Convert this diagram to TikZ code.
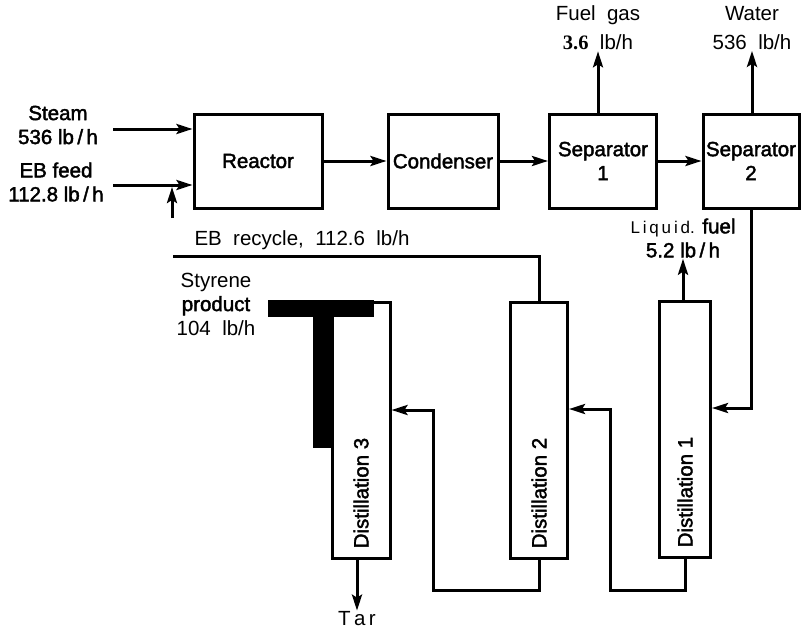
\documentclass[tikz,border=0pt]{standalone}
\usepackage{fontspec}
\setmainfont{Liberation Sans}
\newfontfamily\medfont{Liberation Sans}[FakeBold=2]
\newfontfamily\numfont{Liberation Serif}
\usetikzlibrary{arrows.meta,positioning}
\newcommand{\heavytext}{\medfont\fontsize{20.5}{24}\selectfont}
\newcommand{\thintext}{\fontsize{20.5}{24}\selectfont}
\newcommand{\widetext}{\fontsize{20.5}{29}\selectfont}
\tikzstyle{unit} = [rectangle, minimum height=94pt, text centered, align=center, draw=black, line width=3pt, font=\heavytext]
\tikzstyle{column} = [rectangle, minimum height=256pt, draw=black, line width=3pt]
\tikzstyle{collabel} = [rotate=90, anchor=west, inner sep=0pt, font=\heavytext]
\tikzstyle{stream} = [align=center, inner sep=1pt, font=\thintext]
\tikzstyle{pipe} = [line width=3pt]
\tikzstyle{arrow} = [line width=3pt,-{Stealth[length=16pt,width=10pt,inset=3pt]}]

\begin{document}
\begin{tikzpicture}[x=1pt, y=-1pt, node distance=160pt]
        \useasboundingbox (0,0) rectangle (803,629);
        % top row
        \node (reactor) [unit, minimum width=128pt] at (258,161) {Reactor};
        \node (cond) [unit, minimum width=110pt, inner xsep=1pt, right of=reactor, xshift=25pt] {Condenser};
        \node (sep1) [unit, minimum width=107pt, right of=cond] {Separator\\1};
        \node (sep2) [unit, minimum width=96pt, inner xsep=1pt, right of=sep1, xshift=-12pt] {Separator\\2};
        % columns
        \node (dist3) [column, minimum width=58pt] at (361,430) {};
        \node (dist2) [column, minimum width=57pt] at (539,430) {};
        \node (dist1) [column, minimum width=51pt] at (685,429) {};
        \node (lab3) [collabel] at ([yshift=11pt]dist3.south) {Distillation 3};
        \node (lab2) [collabel] at ([yshift=11pt]dist2.south) {Distillation 2};
        \node (lab1) [collabel] at ([yshift=11pt]dist1.south) {Distillation 1};
        \fill (268,300) rectangle (374,317);
        \fill (313,317) rectangle (332,448);
        % stream labels
        \node (steam) [stream, font=\heavytext] at (58,125) {Steam\\536 lb\,/\,h};
        \node (feed) [stream, font=\heavytext] at (56,182) {EB feed\\112.8 lb\,/\,h};
        \node (fuelgas) [stream, font=\widetext] at (598,28) {Fuel\ \ gas\\\textbf{\numfont 3.6}\ \ lb/h};
        \node (water) [stream, font=\widetext] at (752,28) {Water\\536\ \ lb/h};
        \node (liqfuel) [stream] at (683,238) {{\fontsize{17}{20}\selectfont L\,i\,q\,u\,i\,d.} {\heavytext fuel}\\{\heavytext 5.2 lb\,/\,h}};
        \node (recycle) [stream] at (302,240) {EB\ \ recycle,\ \ 112.6\ \ lb/h};
        \node (styrene) [stream] at (216,304) {Styrene\\{\heavytext product}\\104\ \ lb/h};
        \node (tar) [stream] at (357,619) {T\,a\,r};
        \coordinate (steamin) at (113,129);
        \coordinate (feedin) at (113,185);
        \coordinate (rfoot) at (172,218);
        \coordinate (rjoin) at (172,187);
        \coordinate (rend) at (173,256);
        \coordinate (loop1) at (610,590);
        \coordinate (loop2) at (433,590);
        % connectors
        \draw [arrow] (steamin) -- (steamin -| reactor.west);
        \draw [arrow] (feedin) -- (feedin -| reactor.west);
        \draw [arrow] (rfoot) -- (rjoin);
        \draw [arrow] (reactor) -- (cond);
        \draw [arrow] (cond) -- (sep1);
        \draw [arrow] (sep1) -- (sep2);
        \draw [arrow] (fuelgas.south |- sep1.north) -- (fuelgas.south);
        \draw [arrow] (water.south |- sep2.north) -- (water.south);
        \draw [arrow] (sep2.south) |- ([yshift=21pt]dist1.east);
        \draw [arrow] (liqfuel.south |- dist1.north) -- (liqfuel.south);
        \draw [arrow] (dist1.south) |- (loop1) |- ([yshift=21pt]dist2.east);
        \draw [arrow] (dist2.south) |- (loop2) |- ([yshift=20pt]dist3.east);
        \draw [arrow] (tar.north |- dist3.south) -- (tar.north);
        \draw [pipe] (dist2.north) |- (rend);
    \end{tikzpicture}
\end{document}
